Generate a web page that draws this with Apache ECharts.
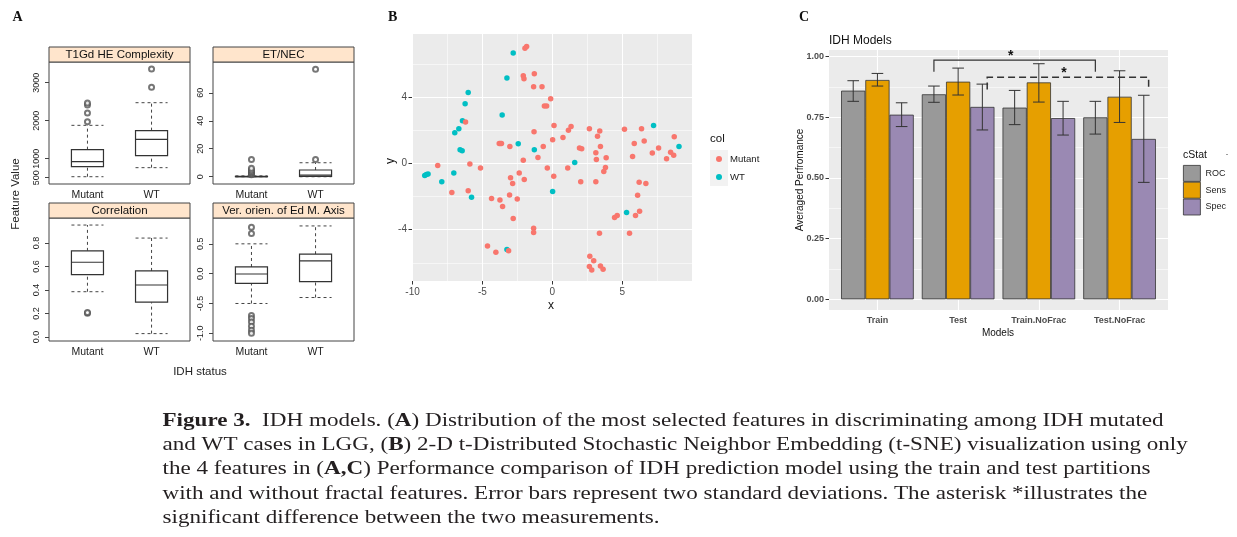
<!DOCTYPE html>
<html>
<head>
<meta charset="utf-8">
<script src="https://cdn.jsdelivr.net/npm/echarts@6/dist/echarts.min.js"></script>
<style>
html, body { margin: 0; padding: 0; background: #fff; }
#chart { width: 1237px; height: 537px; }
</style>
</head>
<body>
<div id="chart"></div>
<script>
// ---------- Panel A: box plots, stats are [lower whisker, Q1, median, Q3, upper whisker] ----------
const groups = ['Mutant', 'WT'];
const complexityBox = [[526, 789, 922, 1238, 1878], [764, 1080, 1510, 1738, 2474]];
const complexityOut = [[1, 1974], [1, 2203], [1, 2413], [1, 2466], [2, 2878], [2, 3361]];
const etnecBox = [[0, 0, 0, 0.3, 0.6], [0, 0.2, 1.2, 4.8, 10.0]];
const etnecOut = [[1, 1.5], [1, 2.2], [1, 2.9], [1, 3.8], [1, 4.8], [1, 6.0], [1, 12.4], [2, 12.4], [2, 76.9]];
const corrBox = [[0.386, 0.531, 0.637, 0.734, 0.954], [0.029, 0.297, 0.443, 0.563, 0.843]];
const corrOut = [[1, 0.203], [1, 0.209]];
const orienBox = [[-0.5, -0.163, -0.006, 0.112, 0.5], [-0.40, -0.135, 0.213, 0.326, 0.80]];
const orienOut = [[1, 0.78], [1, 0.674], [1, -0.70], [1, -0.75], [1, -0.81], [1, -0.88], [1, -0.95], [1, -1.0]];

// ---------- Panel B: t-SNE points [x, y] ----------
const mutantPts = [
  [-1.96, 6.96], [-1.84, 7.06], [-2.08, 5.30], [-2.03, 5.12], [-1.29, 5.42], [-1.34, 4.64], [-0.74, 4.64],
  [-0.12, 3.91], [-0.57, 3.47], [-0.41, 3.47], [-6.21, 2.50], [-3.80, 1.21], [-3.72, 1.21], [-3.64, 1.21],
  [-3.04, 1.03], [-1.31, 1.92], [-0.65, 1.03], [-1.03, 0.36], [-2.08, 0.20], [0.12, 2.30], [0.02, 1.43],
  [0.76, 1.57], [1.15, 2.00], [1.34, 2.24], [2.65, 2.10], [3.39, 1.96], [3.23, 1.65], [3.44, 1.03],
  [1.94, 0.93], [2.10, 0.89], [3.11, 0.65], [3.15, 0.24], [3.85, 0.34], [3.80, -0.24], [3.68, -0.48],
  [2.03, -1.11], [3.11, -1.11], [1.10, -0.28], [0.10, -0.77], [-0.36, -0.28], [-8.20, -0.12], [-5.90, -0.04],
  [-5.14, -0.28], [-7.19, -1.75], [-6.02, -1.65], [-2.37, -0.58], [-2.01, -0.97], [-2.99, -0.87], [-2.84, -1.21],
  [-3.06, -1.90], [-4.35, -2.12], [-3.75, -2.20], [-3.56, -2.60], [-2.51, -2.14], [-2.80, -3.33], [-1.34, -3.91],
  [-1.34, -4.17], [-4.64, -4.98], [-4.04, -5.36], [-3.13, -5.28], [2.68, -5.60], [2.96, -5.87], [2.65, -6.23],
  [2.82, -6.43], [3.44, -6.19], [3.63, -6.39], [3.37, -4.21], [4.45, -3.27], [4.64, -3.15], [5.52, -4.21],
  [5.95, -3.15], [6.24, -2.88], [6.10, -1.92], [6.21, -1.13], [6.69, -1.21], [5.74, 0.42], [5.86, 1.21],
  [5.16, 2.06], [6.38, 2.10], [6.57, 1.35], [7.15, 0.63], [7.60, 0.93], [8.17, 0.28], [8.46, 0.67],
  [8.68, 0.50], [8.72, 1.61]
];
const wtPts = [
  [-2.80, 6.67], [-3.25, 5.16], [-6.02, 4.29], [-6.24, 3.61], [-6.43, 2.58], [-6.69, 2.10], [-6.98, 1.85],
  [-6.60, 0.83], [-6.45, 0.77], [-3.59, 2.92], [-2.44, 1.19], [-1.29, 0.83], [1.60, 0.06], [-7.05, -0.58],
  [-7.91, -1.11], [-9.13, -0.73], [-9.01, -0.67], [-8.89, -0.63], [-5.78, -2.04], [0.02, -1.69], [-3.25, -5.20],
  [5.31, -2.96], [7.24, 2.30], [9.06, 1.03]
];

// ---------- Panel C: averaged performance with error bars ----------
const models = ['Train', 'Test', 'Train.NoFrac', 'Test.NoFrac'];
const stats = ['ROC', 'Sens', 'Spec'];
const rocMean = [0.860, 0.845, 0.790, 0.750];
const rocLow = [0.816, 0.812, 0.720, 0.681];
const rocHigh = [0.901, 0.879, 0.861, 0.816];
const sensMean = [0.904, 0.897, 0.894, 0.835];
const sensLow = [0.879, 0.842, 0.813, 0.729];
const sensHigh = [0.931, 0.953, 0.971, 0.942];
const specMean = [0.761, 0.793, 0.747, 0.661];
const specLow = [0.712, 0.698, 0.677, 0.482];
const specHigh = [0.810, 0.887, 0.816, 0.841];
// significance brackets: [from model, from bar slot, to model, to bar slot, top, end, dashed]
const brackets = [[1, 0, 3, 0, 0.986, 0.938, 0], [1, 2.2, 3, 2.2, 0.915, 0.865, 1]];

const SANS = '"Liberation Sans", Arial, sans-serif';
const SERIF = '"Liberation Serif", "Times New Roman", serif';
const statColors = ['#999999', '#E69F00', '#9A89B3'];

const chart = echarts.init(document.getElementById('chart'));

const grid = [], xAxis = [], yAxis = [], series = [], graphic = [];

// box drawn like lattice bwplot: solid box, dashed umbrella
function renderBox(params, api) {
  const x = api.value(0);
  const p = [1, 2, 3, 4, 5].map(d => api.coord([x, api.value(d)])[1]);
  const l = api.coord([x - 0.25, 0])[0];
  const r = api.coord([x + 0.25, 0])[0];
  const c = api.coord([x, 0])[0];
  const dash = { stroke: '#444', lineWidth: 1, lineDash: [3, 3], fill: null };
  const solid = { stroke: '#333', lineWidth: 1.2, fill: null };
  return {
    type: 'group', children: [
      { type: 'line', shape: { x1: c, y1: p[0], x2: c, y2: p[1] }, style: dash },
      { type: 'line', shape: { x1: c, y1: p[3], x2: c, y2: p[4] }, style: dash },
      { type: 'line', shape: { x1: l, y1: p[0], x2: r, y2: p[0] }, style: dash },
      { type: 'line', shape: { x1: l, y1: p[4], x2: r, y2: p[4] }, style: dash },
      { type: 'rect', shape: { x: l, y: p[3], width: r - l, height: p[1] - p[3] }, style: { stroke: '#333', lineWidth: 1.2, fill: '#fff' } },
      { type: 'line', shape: { x1: l, y1: p[2], x2: r, y2: p[2] }, style: solid }
    ]
  };
}

const panelsA = [
  { title: 'T1Gd HE Complexity', box: complexityBox, out: complexityOut, min: 334, max: 3545, ticks: [500, 1000, 2000, 3000], dec: 0 },
  { title: 'ET/NEC', box: etnecBox, out: etnecOut, min: -5.2, max: 82, ticks: [0, 20, 40, 60], dec: 0 },
  { title: 'Correlation', box: corrBox, out: corrOut, min: -0.034, max: 1.014, ticks: [0, 0.2, 0.4, 0.6, 0.8], dec: 1 },
  { title: 'Ver. orien. of Ed M. Axis', box: orienBox, out: orienOut, min: -1.129, max: 0.933, ticks: [-1, -0.5, 0, 0.5], dec: 1 }
];
const boxGrids = [[49, 62, 141, 122], [213, 62, 141, 122], [49, 218, 141, 123], [213, 218, 141, 123]];

const noLine = { show: false, onZero: false };

panelsA.forEach((p, i) => {
  const [l, t, w, h] = boxGrids[i];
  grid.push({ left: l, top: t, width: w, height: h, show: true, borderColor: '#444', borderWidth: 1, backgroundColor: '#fff' });
  xAxis.push({
    type: 'value', gridIndex: i, min: 0.4, max: 2.6,
    axisLine: noLine, splitLine: { show: false },
    axisTick: { show: false, customValues: [1, 2] },
    axisLabel: { customValues: [1, 2], formatter: v => groups[v - 1], fontSize: 10.5, color: '#222', margin: 6 }
  });
  yAxis.push({
    type: 'value', gridIndex: i, min: p.min, max: p.max,
    axisLine: noLine, splitLine: { show: false },
    axisTick: { show: true, customValues: p.ticks, length: 4, lineStyle: { color: '#444' } },
    axisLabel: { customValues: p.ticks, rotate: 90, formatter: v => v.toFixed(p.dec), fontSize: 9, color: '#222', margin: 8 }
  });
  series.push({
    type: 'custom', xAxisIndex: i, yAxisIndex: i, renderItem: renderBox, z: 3,
    encode: { x: 0, y: [1, 2, 3, 4, 5] },
    data: p.box.map((b, k) => [k + 1].concat(b))
  });
  series.push({
    type: 'scatter', xAxisIndex: i, yAxisIndex: i, data: p.out, symbol: 'emptyCircle', symbolSize: 5, z: 4,
    itemStyle: { color: '#555', borderWidth: 1 }
  });
  graphic.push({ type: 'rect', shape: { x: l, y: t - 15, width: w, height: 15 }, style: { fill: '#FFE5CC', stroke: '#444', lineWidth: 1 }, z: 10 });
  graphic.push({ type: 'text', x: l + w / 2, y: t - 7.5, z: 11, style: { text: p.title, textAlign: 'center', textVerticalAlign: 'middle', fontSize: 11.5, fontFamily: SANS, fill: '#111' } });
});

// ---------- Panel B grid (index 4) ----------
const bMinX = -10.04, bMaxX = 9.99, bMinY = -7.10, bMaxY = 7.82;
grid.push({ left: 412, top: 34, width: 280, height: 247, show: true, backgroundColor: '#EBEBEB', borderWidth: 0 });
xAxis.push({
  type: 'value', gridIndex: 4, min: bMinX, max: bMaxX, axisLine: noLine,
  axisTick: { customValues: [-10, -5, 0, 5], length: 3.5, lineStyle: { color: '#333' } },
  axisLabel: { customValues: [-10, -5, 0, 5], color: '#4D4D4D', fontSize: 10, margin: 6 },
  splitLine: { show: true, lineStyle: { color: '#fff', width: 1.1 } }
});
xAxis.push({
  type: 'value', gridIndex: 4, position: 'bottom', min: bMinX, max: bMaxX, axisLine: noLine,
  axisTick: { show: false, customValues: [-7.5, -2.5, 2.5, 7.5] }, axisLabel: { show: false },
  splitLine: { show: true, lineStyle: { color: '#fff', width: 0.55 } }
});
yAxis.push({
  type: 'value', gridIndex: 4, min: bMinY, max: bMaxY, axisLine: noLine,
  axisTick: { customValues: [-4, 0, 4], length: 3.5, lineStyle: { color: '#333' } },
  axisLabel: { customValues: [-4, 0, 4], color: '#4D4D4D', fontSize: 10, margin: 5 },
  splitLine: { show: true, lineStyle: { color: '#fff', width: 1.1 } }
});
yAxis.push({
  type: 'value', gridIndex: 4, position: 'left', min: bMinY, max: bMaxY, axisLine: noLine,
  axisTick: { show: false, customValues: [-6, -2, 2, 6] }, axisLabel: { show: false },
  splitLine: { show: true, lineStyle: { color: '#fff', width: 0.55 } }
});
series.push({ name: 'WT', type: 'scatter', xAxisIndex: 4, yAxisIndex: 4, data: wtPts, symbolSize: 5.5, itemStyle: { color: '#00BFC4', opacity: 1 } });
series.push({ name: 'Mutant', type: 'scatter', xAxisIndex: 4, yAxisIndex: 4, data: mutantPts, symbolSize: 5.5, itemStyle: { color: '#F8766D', opacity: 1 } });

// ---------- Panel C: outer grid (5) for background/gridlines, inner grid (6) for bars ----------
const cLeft = 829, cTop = 50, cW = 339, cH = 260;
const cMinY = -0.0441, cMaxY = 1.0276;
const unit = cW / 4.2;
grid.push({ left: cLeft, top: cTop, width: cW, height: cH, show: true, backgroundColor: '#EBEBEB', borderWidth: 0 });
grid.push({ left: cLeft + unit * 0.1, top: cTop, width: unit * 4, height: cH });
xAxis.push({
  type: 'value', gridIndex: 5, min: 0.4, max: 4.6, axisLine: noLine,
  axisTick: { show: false, customValues: [1, 2, 3, 4] }, axisLabel: { show: false },
  splitLine: { show: true, lineStyle: { color: '#fff', width: 1.1 } }
});
xAxis.push({
  type: 'category', gridIndex: 6, data: models, axisLine: noLine,
  axisTick: { alignWithLabel: true, length: 3.5, lineStyle: { color: '#333' } },
  axisLabel: { color: '#4D4D4D', fontSize: 9, fontWeight: 'bold', margin: 6 },
  splitLine: { show: false }
});
yAxis.push({
  type: 'value', gridIndex: 5, min: cMinY, max: cMaxY, axisLine: noLine,
  axisTick: { customValues: [0, 0.25, 0.5, 0.75, 1], length: 3.5, lineStyle: { color: '#333' } },
  axisLabel: { customValues: [0, 0.25, 0.5, 0.75, 1], formatter: v => v.toFixed(2), color: '#4D4D4D', fontSize: 9, fontWeight: 'bold', margin: 5 },
  splitLine: { show: true, lineStyle: { color: '#fff', width: 1.1 } }
});
yAxis.push({
  type: 'value', gridIndex: 5, position: 'left', min: cMinY, max: cMaxY, axisLine: noLine,
  axisTick: { show: false, customValues: [0.125, 0.375, 0.625, 0.875] }, axisLabel: { show: false },
  splitLine: { show: true, lineStyle: { color: '#fff', width: 0.55 } }
});
yAxis.push({ type: 'value', gridIndex: 6, min: cMinY, max: cMaxY, show: false, axisLine: noLine });

const means = [rocMean, sensMean, specMean];
const lows = [rocLow, sensLow, specLow];
const highs = [rocHigh, sensHigh, specHigh];

stats.forEach((s, k) => {
  series.push({
    name: s, type: 'bar', xAxisIndex: 7, yAxisIndex: 8, data: means[k],
    barGap: '0%', barCategoryGap: '10%',
    itemStyle: { color: statColors[k], borderColor: '#333', borderWidth: 0.8 }
  });
});

function errorBarRenderer(slot) {
  return function (params, api) {
    const cat = api.value(0);
    const bw = api.size([1, 0])[0] * 0.3;
    const cx = api.coord([cat, 0])[0] + (slot - 1) * bw;
    const yl = api.coord([cat, api.value(1)])[1];
    const yh = api.coord([cat, api.value(2)])[1];
    const hw = bw * 0.24;
    const st = { stroke: '#333', lineWidth: 1, fill: null };
    return {
      type: 'group', children: [
        { type: 'line', shape: { x1: cx, y1: yl, x2: cx, y2: yh }, style: st },
        { type: 'line', shape: { x1: cx - hw, y1: yl, x2: cx + hw, y2: yl }, style: st },
        { type: 'line', shape: { x1: cx - hw, y1: yh, x2: cx + hw, y2: yh }, style: st }
      ]
    };
  };
}
stats.forEach((s, k) => {
  series.push({
    name: s + ' sd', type: 'custom', xAxisIndex: 7, yAxisIndex: 8, z: 5,
    renderItem: errorBarRenderer(k), encode: { x: 0, y: [1, 2] },
    data: models.map((m, i) => [i, lows[k][i], highs[k][i]])
  });
});

series.push({
  name: 'sig', type: 'custom', xAxisIndex: 7, yAxisIndex: 8, z: 6,
  encode: { x: [0, 2], y: [4, 5] },
  data: brackets,
  renderItem: function (params, api) {
    const bw = api.size([1, 0])[0] * 0.3;
    const x1 = api.coord([api.value(0), 0])[0] + (api.value(1) - 1) * bw;
    const x2 = api.coord([api.value(2), 0])[0] + (api.value(3) - 1) * bw;
    const yt = api.coord([0, api.value(4)])[1];
    const ye = api.coord([0, api.value(5)])[1];
    const dashed = api.value(6) === 1;
    return {
      type: 'group', children: [
        { type: 'polyline', shape: { points: [[x1, ye], [x1, yt], [x2, yt], [x2, ye]] },
          style: { stroke: '#333', lineWidth: dashed ? 1.5 : 1.2, fill: null, lineDash: dashed ? [7, 4] : null } },
        { type: 'text', x: (x1 + x2) / 2 - 4, y: yt - 4,
          style: { text: '*', textAlign: 'center', textVerticalAlign: 'middle', fontSize: 14, fontWeight: 'bold', fontFamily: SANS, fill: '#111' } }
      ]
    };
  }
});

// ---------- titles, axis titles and caption ----------
function txt(x, y, text, size, opts) {
  opts = opts || {};
  return {
    type: 'text', x: x, y: y, rotation: opts.rot || 0, scaleX: opts.sx || 1, z: 20,
    style: {
      text: text, fontSize: size, fontFamily: opts.family || SANS, fontWeight: opts.weight || 'normal',
      fill: opts.color || '#111', textAlign: opts.align || 'center', textVerticalAlign: 'middle', rich: opts.rich
    }
  };
}
graphic.push(txt(12.5, 17, 'A', 14, { family: SERIF, weight: 'bold', align: 'left' }));
graphic.push(txt(388, 17, 'B', 14, { family: SERIF, weight: 'bold', align: 'left' }));
graphic.push(txt(799, 17, 'C', 14, { family: SERIF, weight: 'bold', align: 'left' }));

graphic.push(txt(16, 194, 'Feature Value', 11.5, { rot: Math.PI / 2, color: '#222' }));
graphic.push(txt(200, 372, 'IDH status', 11.5, { color: '#222' }));

graphic.push(txt(551, 306, 'x', 12, { color: '#111' }));
graphic.push(txt(391, 161, 'y', 12, { rot: Math.PI / 2, color: '#111' }));
graphic.push(txt(710, 138.5, 'col', 11.5, { align: 'left' }));
graphic.push({ type: 'rect', shape: { x: 710, y: 150, width: 18, height: 18 }, style: { fill: '#F2F2F2' }, z: 1 });
graphic.push({ type: 'rect', shape: { x: 710, y: 168, width: 18, height: 18 }, style: { fill: '#F2F2F2' }, z: 1 });

graphic.push(txt(829, 41, 'IDH Models', 12, { align: 'left' }));
graphic.push(txt(800, 180, 'Averaged Perfromance', 10, { rot: Math.PI / 2 }));
graphic.push(txt(998, 333, 'Models', 10));
graphic.push(txt(1183, 155, 'cStat', 10.5, { align: 'left' }));
graphic.push(txt(1227, 153, '.', 9, { align: 'center' }));

const captionLines = [
  '{b|Figure 3.}  IDH models. ({b|A}) Distribution of the most selected features in discriminating among IDH mutated',
  'and WT cases in LGG, ({b|B}) 2-D t-Distributed Stochastic Neighbor Embedding (t-SNE) visualization using only',
  'the 4 features in ({b|A,C}) Performance comparison of IDH prediction model using the train and test partitions',
  'with and without fractal features. Error bars represent two standard deviations. The asterisk *illustrates the',
  'significant difference between the two measurements.'
];
const capSize = 19.5;
captionLines.forEach((line, i) => {
  graphic.push(txt(162.5, 420.5 + i * 24.4, line, capSize, {
    family: SERIF, align: 'left', color: '#231F20', sx: 1.184,
    rich: { b: { fontWeight: 'bold', fontSize: capSize, fontFamily: SERIF, fill: '#231F20' } }
  }));
});

chart.setOption({
  animation: false,
  textStyle: { fontFamily: SANS },
  grid: grid,
  xAxis: xAxis,
  yAxis: yAxis,
  series: series,
  graphic: { elements: graphic },
  legend: [
    {
      data: ['Mutant', 'WT'], left: 716, top: 150, orient: 'vertical', padding: 0, itemGap: 0,
      icon: 'circle', itemWidth: 12, itemHeight: 6, selectedMode: false,
      textStyle: { fontSize: 9.6, color: '#222', lineHeight: 18 }
    },
    {
      data: stats, left: 1183, top: 165, orient: 'vertical', padding: 0, itemGap: 0,
      icon: 'rect', itemWidth: 17, itemHeight: 16, selectedMode: false,
      itemStyle: { borderColor: '#333', borderWidth: 0.8 },
      textStyle: { fontSize: 9, color: '#222', lineHeight: 16 }
    }
  ]
});
</script>
</body>
</html>
